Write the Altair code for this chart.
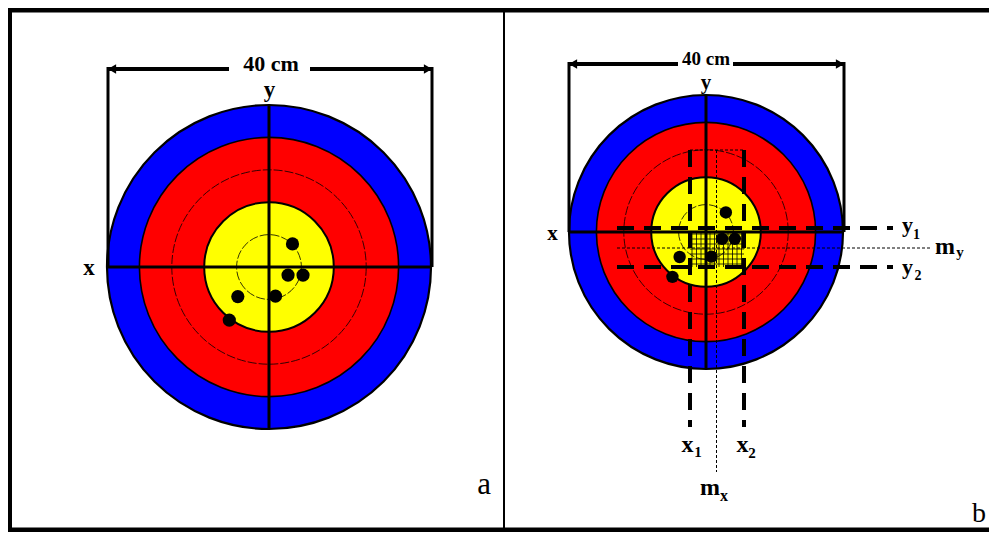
import altair as alt
import pandas as pd
import numpy as np

# ---------------- data ----------------
PANELS = ["a", "b"]
CENTER_X = [269, 706]          # target centres (page px)
CENTER_Y = [267, 232]
PX_PER_CM = [8.1, 6.85]

ZONE_RADII_CM = [20, 16, 8]                     # filled scoring zones
ZONE_COLORS = ["#0000FF", "#FF0000", "#FFFF00"]
ZONE_STROKE = [2.2, 1.6, 2.0]
THIN_RADII_CM = [12, 4]                         # thin ring lines

SHOT_X_CM = [2.9, 2.35, 4.2, -3.85, 0.8, -4.9]  # arrow hits (x right)
SHOT_Y_CM = [-2.85, 1.0, 1.0, 3.65, 3.6, 6.55]  # (y downward)
SHOT_R_PX = [6.6, 6.2]

DIM_LABEL = "40 cm"
DIM_Y = [69, 64]
DIM_LEFT = [108, 569]
DIM_RIGHT = [432, 844]
DIM_GAP_L = [229, 678]
DIM_GAP_R = [310, 733]
DIM_LABEL_X = [271, 706]
DIM_LABEL_BASE = [71, 65]
DIM_LABEL_FS = [22, 19]

# panel b dispersion construction (page px)
X1, X2, Y1, Y2 = 690, 744, 228, 267
MX, MY = 716.5, 248
V_TOP, V_BOT = 150, 427
H_LEFT, H_RIGHT = 617, 893

# ---------------- build tables ----------------
zones, thin, shots = [], [], []
for p in range(2):
    s = PX_PER_CM[p]
    for i, r in enumerate(ZONE_RADII_CM):
        zones.append(dict(x=CENTER_X[p], y=CENTER_Y[p], size=(2 * r * s) ** 2,
                          fill=ZONE_COLORS[i], sw=ZONE_STROKE[i], o=p * 10 + i))
    for r in THIN_RADII_CM:
        thin.append(dict(x=CENTER_X[p], y=CENTER_Y[p], size=(2 * r * s) ** 2))
    for sx, sy in zip(SHOT_X_CM, SHOT_Y_CM):
        shots.append(dict(x=CENTER_X[p] + sx * s, y=CENTER_Y[p] + sy * s,
                          size=(2 * SHOT_R_PX[p]) ** 2))

solid = []   # x, x2, y, y2, w
for p in range(2):
    s = PX_PER_CM[p]
    R = 20 * s
    cx, cy = CENTER_X[p], CENTER_Y[p]
    solid.append(dict(x=cx, x2=cx, y=cy - R, y2=cy + R, w=3))          # y axis
    solid.append(dict(x=cx - R, x2=cx + R, y=cy, y2=cy, w=3))          # x axis
    solid.append(dict(x=DIM_LEFT[p], x2=DIM_GAP_L[p], y=DIM_Y[p], y2=DIM_Y[p], w=4))
    solid.append(dict(x=DIM_GAP_R[p], x2=DIM_RIGHT[p], y=DIM_Y[p], y2=DIM_Y[p], w=4))
    solid.append(dict(x=DIM_LEFT[p], x2=DIM_LEFT[p], y=DIM_Y[p] - 2, y2=cy, w=3))
    solid.append(dict(x=DIM_RIGHT[p], x2=DIM_RIGHT[p], y=DIM_Y[p] - 2, y2=cy, w=3))
# frame
solid.append(dict(x=8, x2=989, y=10, y2=10, w=5))
solid.append(dict(x=10, x2=10, y=8, y2=532, w=4))
solid.append(dict(x=8, x2=989, y=530, y2=530, w=5))
solid.append(dict(x=504, x2=504, y=8, y2=532, w=2))
solid_df = pd.DataFrame(solid)

arrows = []
for p in range(2):
    arrows.append(dict(x=DIM_LEFT[p] + 4, y=DIM_Y[p], shape="triangle-left"))
    arrows.append(dict(x=DIM_RIGHT[p] - 4, y=DIM_Y[p], shape="triangle-right"))
arrows_df = pd.DataFrame(arrows)

thick_dash = pd.DataFrame([
    dict(x=X1, x2=X1, y=V_TOP, y2=V_BOT),
    dict(x=X2, x2=X2, y=V_TOP, y2=V_BOT),
    dict(x=H_LEFT, x2=H_RIGHT, y=Y1, y2=Y1),
    dict(x=H_LEFT, x2=H_RIGHT, y=Y2, y2=Y2),
])
thin_dash = pd.DataFrame([
    dict(x=MX, x2=MX, y=V_TOP, y2=472),
    dict(x=H_LEFT, x2=932, y=MY, y2=MY),
    dict(x=X1, x2=X2, y=V_TOP, y2=V_TOP),
])
grid_v = [dict(x=gx, x2=gx, y=232, y2=Y2) for gx in np.arange(X1 + 2, X2, 4.5)]
grid_h = [dict(x=X1, x2=X2, y=gy, y2=gy) for gy in np.arange(234, Y2, 5)]
grid_df = pd.DataFrame(grid_v + grid_h)

bold_text = pd.DataFrame([
    dict(x=DIM_LABEL_X[0], y=DIM_LABEL_BASE[0], t=DIM_LABEL, fs=DIM_LABEL_FS[0]),
    dict(x=DIM_LABEL_X[1], y=DIM_LABEL_BASE[1], t=DIM_LABEL, fs=DIM_LABEL_FS[1]),
    dict(x=269.5, y=96.5, t="y", fs=23),
    dict(x=89, y=275, t="x", fs=23),
    dict(x=706, y=88.5, t="y", fs=21),
    dict(x=552.5, y=240, t="x", fs=21),
    dict(x=907.5, y=232, t="y", fs=22),
    dict(x=916.5, y=238.5, t="1", fs=14),
    dict(x=907.5, y=273.5, t="y", fs=22),
    dict(x=918, y=280, t="2", fs=14),
    dict(x=945, y=254, t="m", fs=24),
    dict(x=960, y=257, t="y", fs=15),
    dict(x=687.5, y=451.5, t="x", fs=24),
    dict(x=698, y=456.5, t="1", fs=15),
    dict(x=742.5, y=451.5, t="x", fs=24),
    dict(x=752, y=458, t="2", fs=15),
    dict(x=710, y=495, t="m", fs=24),
    dict(x=724, y=500.5, t="x", fs=16),
])
panel_text = pd.DataFrame([
    dict(x=484, y=494, t="a", fs=31),
    dict(x=979, y=522, t="b", fs=28),
])

# ---------------- chart ----------------
X = alt.X("x:Q", scale=alt.Scale(domain=[8, 989], nice=False, zero=False), axis=None)
Y = alt.Y("y:Q", scale=alt.Scale(domain=[8, 532], nice=False, zero=False, reverse=True), axis=None)
X2 = alt.X2("x2:Q")
Y2 = alt.Y2("y2:Q")

SERIF = "Liberation Serif, Times New Roman, serif"

zones_l = alt.Chart(pd.DataFrame(zones)).mark_point(
    shape="circle", filled=True, opacity=1, stroke="black"
).encode(
    x=X, y=Y,
    size=alt.Size("size:Q", scale=None),
    fill=alt.Fill("fill:N", scale=None),
    strokeWidth=alt.StrokeWidth("sw:Q", scale=None),
    order=alt.Order("o:Q"),
)
thin_l = alt.Chart(pd.DataFrame(thin)).mark_point(
    shape="circle", filled=False, opacity=1, stroke="black", strokeWidth=0.8,
    strokeDash=[9, 2]
).encode(x=X, y=Y, size=alt.Size("size:Q", scale=None))

grid_l = alt.Chart(grid_df).mark_rule(color="black", strokeWidth=0.8).encode(
    x=X, x2=X2, y=Y, y2=Y2)
thin_dash_l = alt.Chart(thin_dash).mark_rule(
    color="black", strokeWidth=1, strokeDash=[3, 2]).encode(x=X, x2=X2, y=Y, y2=Y2)
solid_l = alt.Chart(solid_df).mark_rule(color="black").encode(
    x=X, x2=X2, y=Y, y2=Y2, strokeWidth=alt.StrokeWidth("w:Q", scale=None))
thick_dash_l = alt.Chart(thick_dash).mark_rule(
    color="black", strokeWidth=4, strokeDash=[17, 10]).encode(x=X, x2=X2, y=Y, y2=Y2)
shots_l = alt.Chart(pd.DataFrame(shots)).mark_point(
    shape="circle", filled=True, opacity=1, color="black"
).encode(x=X, y=Y, size=alt.Size("size:Q", scale=None))
arrows_l = alt.Chart(arrows_df).mark_point(
    filled=True, opacity=1, color="black", size=90
).encode(x=X, y=Y, shape=alt.Shape("shape:N", scale=None))
bold_l = alt.Chart(bold_text).mark_text(
    font=SERIF, fontWeight="bold", baseline="alphabetic", align="center",
    color="black"
).encode(x=X, y=Y, text="t:N", size=alt.Size("fs:Q", scale=None))
panel_l = alt.Chart(panel_text).mark_text(
    font=SERIF, baseline="alphabetic", align="center", color="black"
).encode(x=X, y=Y, text="t:N", size=alt.Size("fs:Q", scale=None))

chart = alt.layer(
    zones_l, thin_l, grid_l, thin_dash_l, solid_l, thick_dash_l, shots_l, arrows_l,
    bold_l, panel_l
).properties(
    width=981, height=524, padding=0, autosize=alt.AutoSizeParams(type="none"),
    background="white"
).configure_view(stroke=None)

chart.save("out.html", embed_options={"renderer": "svg", "actions": False})
